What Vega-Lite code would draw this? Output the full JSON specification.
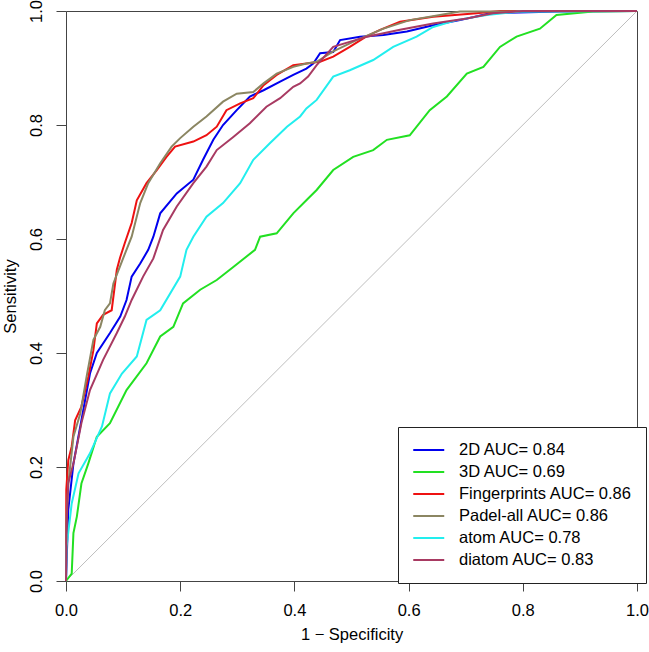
{
  "$schema": "https://vega.github.io/schema/vega-lite/v6.json",
  "width": 571,
  "height": 570,
  "autosize": "none",
  "padding": {"left": 66, "top": 11, "right": 12, "bottom": 71},
  "background": "white",
  "config": {
    "font": "Liberation Sans",
    "view": {"stroke": "#444", "strokeWidth": 1},
    "axis": {"grid": false, "domain": false, "tickColor": "#444", "tickSize": 10, "tickWidth": 1,
      "labelFontSize": 16.5, "titleFontSize": 16.5, "labelColor": "#000", "titleColor": "#000", "titleFontWeight": "normal",
      "labelFlush": false, "labelOverlap": false}
  },
  "datasets": {
    "diag": [{"x": 0, "y": 0}, {"x": 1, "y": 1}],
    "roc": [
      {"m": "2D AUC= 0.84", "x": 0, "y": 0},
      {"m": "2D AUC= 0.84", "x": 0.004, "y": 0.125},
      {"m": "2D AUC= 0.84", "x": 0.013, "y": 0.206},
      {"m": "2D AUC= 0.84", "x": 0.025, "y": 0.271},
      {"m": "2D AUC= 0.84", "x": 0.042, "y": 0.364},
      {"m": "2D AUC= 0.84", "x": 0.054, "y": 0.4},
      {"m": "2D AUC= 0.84", "x": 0.077, "y": 0.435},
      {"m": "2D AUC= 0.84", "x": 0.095, "y": 0.464},
      {"m": "2D AUC= 0.84", "x": 0.106, "y": 0.493},
      {"m": "2D AUC= 0.84", "x": 0.115, "y": 0.534},
      {"m": "2D AUC= 0.84", "x": 0.13, "y": 0.557},
      {"m": "2D AUC= 0.84", "x": 0.144, "y": 0.581},
      {"m": "2D AUC= 0.84", "x": 0.153, "y": 0.604},
      {"m": "2D AUC= 0.84", "x": 0.165, "y": 0.645},
      {"m": "2D AUC= 0.84", "x": 0.194, "y": 0.68},
      {"m": "2D AUC= 0.84", "x": 0.223, "y": 0.704},
      {"m": "2D AUC= 0.84", "x": 0.24, "y": 0.739},
      {"m": "2D AUC= 0.84", "x": 0.258, "y": 0.774},
      {"m": "2D AUC= 0.84", "x": 0.275, "y": 0.8},
      {"m": "2D AUC= 0.84", "x": 0.299, "y": 0.826},
      {"m": "2D AUC= 0.84", "x": 0.322, "y": 0.85},
      {"m": "2D AUC= 0.84", "x": 0.346, "y": 0.861},
      {"m": "2D AUC= 0.84", "x": 0.375, "y": 0.876},
      {"m": "2D AUC= 0.84", "x": 0.398, "y": 0.888},
      {"m": "2D AUC= 0.84", "x": 0.421, "y": 0.899},
      {"m": "2D AUC= 0.84", "x": 0.433, "y": 0.908},
      {"m": "2D AUC= 0.84", "x": 0.445, "y": 0.926},
      {"m": "2D AUC= 0.84", "x": 0.468, "y": 0.928},
      {"m": "2D AUC= 0.84", "x": 0.48, "y": 0.949},
      {"m": "2D AUC= 0.84", "x": 0.515, "y": 0.955},
      {"m": "2D AUC= 0.84", "x": 0.556, "y": 0.958},
      {"m": "2D AUC= 0.84", "x": 0.597, "y": 0.964},
      {"m": "2D AUC= 0.84", "x": 0.643, "y": 0.975},
      {"m": "2D AUC= 0.84", "x": 0.69, "y": 0.984},
      {"m": "2D AUC= 0.84", "x": 0.743, "y": 0.996},
      {"m": "2D AUC= 0.84", "x": 0.865, "y": 0.999},
      {"m": "2D AUC= 0.84", "x": 1, "y": 1},

      {"m": "3D AUC= 0.69", "x": 0, "y": 0},
      {"m": "3D AUC= 0.69", "x": 0.01, "y": 0.013},
      {"m": "3D AUC= 0.69", "x": 0.013, "y": 0.084},
      {"m": "3D AUC= 0.69", "x": 0.019, "y": 0.113},
      {"m": "3D AUC= 0.69", "x": 0.027, "y": 0.171},
      {"m": "3D AUC= 0.69", "x": 0.039, "y": 0.206},
      {"m": "3D AUC= 0.69", "x": 0.054, "y": 0.253},
      {"m": "3D AUC= 0.69", "x": 0.077, "y": 0.277},
      {"m": "3D AUC= 0.69", "x": 0.106, "y": 0.335},
      {"m": "3D AUC= 0.69", "x": 0.141, "y": 0.382},
      {"m": "3D AUC= 0.69", "x": 0.165, "y": 0.429},
      {"m": "3D AUC= 0.69", "x": 0.188, "y": 0.446},
      {"m": "3D AUC= 0.69", "x": 0.205, "y": 0.487},
      {"m": "3D AUC= 0.69", "x": 0.235, "y": 0.511},
      {"m": "3D AUC= 0.69", "x": 0.264, "y": 0.528},
      {"m": "3D AUC= 0.69", "x": 0.293, "y": 0.551},
      {"m": "3D AUC= 0.69", "x": 0.331, "y": 0.581},
      {"m": "3D AUC= 0.69", "x": 0.34, "y": 0.604},
      {"m": "3D AUC= 0.69", "x": 0.369, "y": 0.61},
      {"m": "3D AUC= 0.69", "x": 0.398, "y": 0.645},
      {"m": "3D AUC= 0.69", "x": 0.424, "y": 0.671},
      {"m": "3D AUC= 0.69", "x": 0.439, "y": 0.686},
      {"m": "3D AUC= 0.69", "x": 0.468, "y": 0.721},
      {"m": "3D AUC= 0.69", "x": 0.503, "y": 0.744},
      {"m": "3D AUC= 0.69", "x": 0.538, "y": 0.756},
      {"m": "3D AUC= 0.69", "x": 0.562, "y": 0.774},
      {"m": "3D AUC= 0.69", "x": 0.602, "y": 0.782},
      {"m": "3D AUC= 0.69", "x": 0.637, "y": 0.826},
      {"m": "3D AUC= 0.69", "x": 0.667, "y": 0.85},
      {"m": "3D AUC= 0.69", "x": 0.702, "y": 0.89},
      {"m": "3D AUC= 0.69", "x": 0.731, "y": 0.902},
      {"m": "3D AUC= 0.69", "x": 0.76, "y": 0.937},
      {"m": "3D AUC= 0.69", "x": 0.789, "y": 0.955},
      {"m": "3D AUC= 0.69", "x": 0.83, "y": 0.969},
      {"m": "3D AUC= 0.69", "x": 0.859, "y": 0.993},
      {"m": "3D AUC= 0.69", "x": 0.923, "y": 0.999},
      {"m": "3D AUC= 0.69", "x": 1, "y": 1},

      {"m": "Fingerprints AUC= 0.86", "x": 0, "y": 0},
      {"m": "Fingerprints AUC= 0.86", "x": 0.0005, "y": 0.16},
      {"m": "Fingerprints AUC= 0.86", "x": 0.004, "y": 0.212},
      {"m": "Fingerprints AUC= 0.86", "x": 0.01, "y": 0.236},
      {"m": "Fingerprints AUC= 0.86", "x": 0.016, "y": 0.282},
      {"m": "Fingerprints AUC= 0.86", "x": 0.027, "y": 0.306},
      {"m": "Fingerprints AUC= 0.86", "x": 0.039, "y": 0.358},
      {"m": "Fingerprints AUC= 0.86", "x": 0.048, "y": 0.405},
      {"m": "Fingerprints AUC= 0.86", "x": 0.054, "y": 0.452},
      {"m": "Fingerprints AUC= 0.86", "x": 0.065, "y": 0.467},
      {"m": "Fingerprints AUC= 0.86", "x": 0.08, "y": 0.475},
      {"m": "Fingerprints AUC= 0.86", "x": 0.089, "y": 0.546},
      {"m": "Fingerprints AUC= 0.86", "x": 0.0946, "y": 0.567},
      {"m": "Fingerprints AUC= 0.86", "x": 0.103, "y": 0.593},
      {"m": "Fingerprints AUC= 0.86", "x": 0.115, "y": 0.628},
      {"m": "Fingerprints AUC= 0.86", "x": 0.124, "y": 0.668},
      {"m": "Fingerprints AUC= 0.86", "x": 0.141, "y": 0.698},
      {"m": "Fingerprints AUC= 0.86", "x": 0.159, "y": 0.721},
      {"m": "Fingerprints AUC= 0.86", "x": 0.176, "y": 0.744},
      {"m": "Fingerprints AUC= 0.86", "x": 0.191, "y": 0.762},
      {"m": "Fingerprints AUC= 0.86", "x": 0.223, "y": 0.771},
      {"m": "Fingerprints AUC= 0.86", "x": 0.246, "y": 0.782},
      {"m": "Fingerprints AUC= 0.86", "x": 0.264, "y": 0.797},
      {"m": "Fingerprints AUC= 0.86", "x": 0.281, "y": 0.826},
      {"m": "Fingerprints AUC= 0.86", "x": 0.305, "y": 0.838},
      {"m": "Fingerprints AUC= 0.86", "x": 0.328, "y": 0.847},
      {"m": "Fingerprints AUC= 0.86", "x": 0.346, "y": 0.87},
      {"m": "Fingerprints AUC= 0.86", "x": 0.369, "y": 0.888},
      {"m": "Fingerprints AUC= 0.86", "x": 0.398, "y": 0.905},
      {"m": "Fingerprints AUC= 0.86", "x": 0.421, "y": 0.908},
      {"m": "Fingerprints AUC= 0.86", "x": 0.445, "y": 0.911},
      {"m": "Fingerprints AUC= 0.86", "x": 0.468, "y": 0.92},
      {"m": "Fingerprints AUC= 0.86", "x": 0.497, "y": 0.937},
      {"m": "Fingerprints AUC= 0.86", "x": 0.527, "y": 0.956},
      {"m": "Fingerprints AUC= 0.86", "x": 0.55, "y": 0.967},
      {"m": "Fingerprints AUC= 0.86", "x": 0.585, "y": 0.981},
      {"m": "Fingerprints AUC= 0.86", "x": 0.643, "y": 0.99},
      {"m": "Fingerprints AUC= 0.86", "x": 0.719, "y": 0.996},
      {"m": "Fingerprints AUC= 0.86", "x": 0.76, "y": 1},
      {"m": "Fingerprints AUC= 0.86", "x": 1, "y": 1},

      {"m": "Padel-all AUC= 0.86", "x": 0, "y": 0},
      {"m": "Padel-all AUC= 0.86", "x": 0.001, "y": 0.113},
      {"m": "Padel-all AUC= 0.86", "x": 0.004, "y": 0.171},
      {"m": "Padel-all AUC= 0.86", "x": 0.013, "y": 0.253},
      {"m": "Padel-all AUC= 0.86", "x": 0.025, "y": 0.294},
      {"m": "Padel-all AUC= 0.86", "x": 0.036, "y": 0.358},
      {"m": "Padel-all AUC= 0.86", "x": 0.048, "y": 0.423},
      {"m": "Padel-all AUC= 0.86", "x": 0.06, "y": 0.446},
      {"m": "Padel-all AUC= 0.86", "x": 0.068, "y": 0.475},
      {"m": "Padel-all AUC= 0.86", "x": 0.077, "y": 0.487},
      {"m": "Padel-all AUC= 0.86", "x": 0.083, "y": 0.522},
      {"m": "Padel-all AUC= 0.86", "x": 0.1, "y": 0.566},
      {"m": "Padel-all AUC= 0.86", "x": 0.115, "y": 0.604},
      {"m": "Padel-all AUC= 0.86", "x": 0.13, "y": 0.663},
      {"m": "Padel-all AUC= 0.86", "x": 0.144, "y": 0.698},
      {"m": "Padel-all AUC= 0.86", "x": 0.165, "y": 0.733},
      {"m": "Padel-all AUC= 0.86", "x": 0.185, "y": 0.762},
      {"m": "Padel-all AUC= 0.86", "x": 0.2, "y": 0.777},
      {"m": "Padel-all AUC= 0.86", "x": 0.223, "y": 0.797},
      {"m": "Padel-all AUC= 0.86", "x": 0.246, "y": 0.815},
      {"m": "Padel-all AUC= 0.86", "x": 0.275, "y": 0.841},
      {"m": "Padel-all AUC= 0.86", "x": 0.299, "y": 0.855},
      {"m": "Padel-all AUC= 0.86", "x": 0.328, "y": 0.858},
      {"m": "Padel-all AUC= 0.86", "x": 0.346, "y": 0.873},
      {"m": "Padel-all AUC= 0.86", "x": 0.369, "y": 0.89},
      {"m": "Padel-all AUC= 0.86", "x": 0.398, "y": 0.902},
      {"m": "Padel-all AUC= 0.86", "x": 0.421, "y": 0.908},
      {"m": "Padel-all AUC= 0.86", "x": 0.439, "y": 0.911},
      {"m": "Padel-all AUC= 0.86", "x": 0.468, "y": 0.929},
      {"m": "Padel-all AUC= 0.86", "x": 0.509, "y": 0.949},
      {"m": "Padel-all AUC= 0.86", "x": 0.556, "y": 0.969},
      {"m": "Padel-all AUC= 0.86", "x": 0.602, "y": 0.984},
      {"m": "Padel-all AUC= 0.86", "x": 0.655, "y": 0.993},
      {"m": "Padel-all AUC= 0.86", "x": 0.69, "y": 0.999},
      {"m": "Padel-all AUC= 0.86", "x": 1, "y": 1},

      {"m": "atom AUC= 0.78", "x": 0, "y": 0},
      {"m": "atom AUC= 0.78", "x": 0.001, "y": 0.06},
      {"m": "atom AUC= 0.78", "x": 0.01, "y": 0.136},
      {"m": "atom AUC= 0.78", "x": 0.022, "y": 0.189},
      {"m": "atom AUC= 0.78", "x": 0.042, "y": 0.224},
      {"m": "atom AUC= 0.78", "x": 0.063, "y": 0.271},
      {"m": "atom AUC= 0.78", "x": 0.077, "y": 0.329},
      {"m": "atom AUC= 0.78", "x": 0.098, "y": 0.364},
      {"m": "atom AUC= 0.78", "x": 0.124, "y": 0.394},
      {"m": "atom AUC= 0.78", "x": 0.141, "y": 0.458},
      {"m": "atom AUC= 0.78", "x": 0.165, "y": 0.475},
      {"m": "atom AUC= 0.78", "x": 0.2, "y": 0.534},
      {"m": "atom AUC= 0.78", "x": 0.211, "y": 0.581},
      {"m": "atom AUC= 0.78", "x": 0.223, "y": 0.604},
      {"m": "atom AUC= 0.78", "x": 0.246, "y": 0.639},
      {"m": "atom AUC= 0.78", "x": 0.275, "y": 0.663},
      {"m": "atom AUC= 0.78", "x": 0.305, "y": 0.698},
      {"m": "atom AUC= 0.78", "x": 0.328, "y": 0.739},
      {"m": "atom AUC= 0.78", "x": 0.357, "y": 0.768},
      {"m": "atom AUC= 0.78", "x": 0.387, "y": 0.797},
      {"m": "atom AUC= 0.78", "x": 0.41, "y": 0.815},
      {"m": "atom AUC= 0.78", "x": 0.421, "y": 0.829},
      {"m": "atom AUC= 0.78", "x": 0.439, "y": 0.844},
      {"m": "atom AUC= 0.78", "x": 0.468, "y": 0.885},
      {"m": "atom AUC= 0.78", "x": 0.497, "y": 0.896},
      {"m": "atom AUC= 0.78", "x": 0.538, "y": 0.914},
      {"m": "atom AUC= 0.78", "x": 0.573, "y": 0.937},
      {"m": "atom AUC= 0.78", "x": 0.614, "y": 0.955},
      {"m": "atom AUC= 0.78", "x": 0.643, "y": 0.972},
      {"m": "atom AUC= 0.78", "x": 0.684, "y": 0.984},
      {"m": "atom AUC= 0.78", "x": 0.737, "y": 0.993},
      {"m": "atom AUC= 0.78", "x": 0.795, "y": 0.999},
      {"m": "atom AUC= 0.78", "x": 1, "y": 1},

      {"m": "diatom AUC= 0.83", "x": 0, "y": 0},
      {"m": "diatom AUC= 0.83", "x": 0.001, "y": 0.1},
      {"m": "diatom AUC= 0.83", "x": 0.004, "y": 0.172},
      {"m": "diatom AUC= 0.83", "x": 0.013, "y": 0.206},
      {"m": "diatom AUC= 0.83", "x": 0.027, "y": 0.277},
      {"m": "diatom AUC= 0.83", "x": 0.042, "y": 0.335},
      {"m": "diatom AUC= 0.83", "x": 0.065, "y": 0.388},
      {"m": "diatom AUC= 0.83", "x": 0.089, "y": 0.435},
      {"m": "diatom AUC= 0.83", "x": 0.103, "y": 0.464},
      {"m": "diatom AUC= 0.83", "x": 0.115, "y": 0.493},
      {"m": "diatom AUC= 0.83", "x": 0.135, "y": 0.534},
      {"m": "diatom AUC= 0.83", "x": 0.153, "y": 0.566},
      {"m": "diatom AUC= 0.83", "x": 0.17, "y": 0.616},
      {"m": "diatom AUC= 0.83", "x": 0.194, "y": 0.657},
      {"m": "diatom AUC= 0.83", "x": 0.223, "y": 0.698},
      {"m": "diatom AUC= 0.83", "x": 0.246, "y": 0.727},
      {"m": "diatom AUC= 0.83", "x": 0.264, "y": 0.756},
      {"m": "diatom AUC= 0.83", "x": 0.293, "y": 0.779},
      {"m": "diatom AUC= 0.83", "x": 0.322, "y": 0.803},
      {"m": "diatom AUC= 0.83", "x": 0.351, "y": 0.832},
      {"m": "diatom AUC= 0.83", "x": 0.375, "y": 0.847},
      {"m": "diatom AUC= 0.83", "x": 0.398, "y": 0.867},
      {"m": "diatom AUC= 0.83", "x": 0.41, "y": 0.873},
      {"m": "diatom AUC= 0.83", "x": 0.424, "y": 0.885},
      {"m": "diatom AUC= 0.83", "x": 0.439, "y": 0.905},
      {"m": "diatom AUC= 0.83", "x": 0.468, "y": 0.937},
      {"m": "diatom AUC= 0.83", "x": 0.527, "y": 0.955},
      {"m": "diatom AUC= 0.83", "x": 0.585, "y": 0.967},
      {"m": "diatom AUC= 0.83", "x": 0.643, "y": 0.978},
      {"m": "diatom AUC= 0.83", "x": 0.702, "y": 0.987},
      {"m": "diatom AUC= 0.83", "x": 0.748, "y": 0.996},
      {"m": "diatom AUC= 0.83", "x": 0.8, "y": 1},
      {"m": "diatom AUC= 0.83", "x": 1, "y": 1}
    ]
  },
  "layer": [
    {
      "data": {"name": "diag"},
      "mark": {"type": "line", "color": "#bebebe", "strokeWidth": 1},
      "encoding": {
        "x": {"field": "x", "type": "quantitative", "scale": {"domain": [0, 1], "nice": false, "zero": false},
          "axis": {"values": [0, 0.2, 0.4, 0.6, 0.8, 1], "format": ".1f", "title": "1 \u2212 Specificity", "labelPadding": 11, "titlePadding": 8}},
        "y": {"field": "y", "type": "quantitative", "scale": {"domain": [0, 1], "nice": false, "zero": false},
          "axis": {"values": [0, 0.2, 0.4, 0.6, 0.8, 1], "format": ".1f", "title": "Sensitivity", "labelAngle": 270, "labelAlign": "center", "labelBaseline": "bottom", "labelPadding": 12, "titlePadding": 10}}
      }
    },
    {
      "data": {"name": "roc"},
      "mark": {"type": "line", "strokeWidth": 2},
      "encoding": {
        "x": {"field": "x", "type": "quantitative"},
        "y": {"field": "y", "type": "quantitative"},
        "color": {
          "field": "m", "type": "nominal",
          "scale": {
            "domain": ["2D AUC= 0.84", "3D AUC= 0.69", "Fingerprints AUC= 0.86", "Padel-all AUC= 0.86", "atom AUC= 0.78", "diatom AUC= 0.83"],
            "range": ["#0000ee", "#22e022", "#ee1111", "#8b8662", "#22eeee", "#a83a62"]
          },
          "legend": {
            "title": null, "orient": "none", "legendX": 332, "legendY": 416,
            "strokeColor": "#222", "fillColor": "#ffffff", "padding": 14,
            "symbolType": "M-1,0H3", "symbolSize": 240, "symbolStrokeWidth": 2,
            "labelFontSize": 16.5, "labelColor": "#000", "rowPadding": 4, "labelOffset": 29, "labelLimit": 400
          }
        }
      }
    }
  ]
}
